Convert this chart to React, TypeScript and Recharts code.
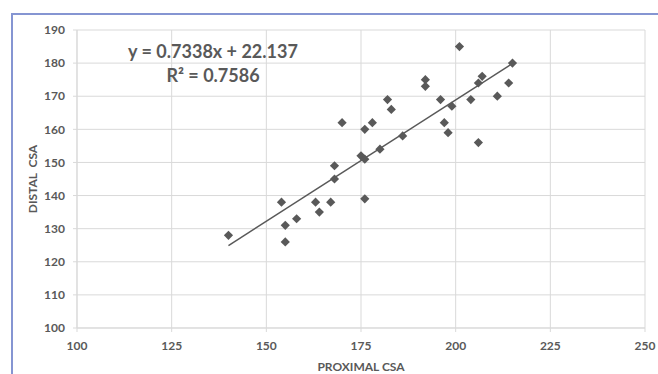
import React from 'react';
import { ScatterChart, Scatter, XAxis, YAxis, CartesianGrid, ReferenceLine } from 'recharts';

const proximal = [140, 154, 155, 155, 158, 163, 164, 167, 168, 168, 170, 175, 176, 176, 176, 178, 180, 182, 183, 186, 192, 192, 196, 197, 198, 199, 201, 204, 206, 206, 207, 211, 214, 215];
const distal = [128, 138, 131, 126, 133, 138, 135, 138, 145, 149, 162, 152, 151, 139, 160, 162, 154, 169, 166, 158, 175, 173, 169, 162, 159, 167, 185, 169, 156, 174, 176, 170, 174, 180];
const xTicks = [100, 125, 150, 175, 200, 225, 250];
const yTicks = [100, 110, 120, 130, 140, 150, 160, 170, 180, 190];
const trendX = [140, 215];
const trendY = [124.9, 179.9];
const equation = 'y = 0.7338x + 22.137';
const rSquared = 'R² = 0.7586';

const points = proximal.map((x, i) => ({ x, y: distal[i] }));
const FONT = 'Lato, "Open Sans", sans-serif';
const GRAY = '#595959';

const Diamond = (props: any) => {
  const { cx, cy } = props;
  if (cx == null || cy == null) return null;
  const r = 4.6;
  return <polygon points={`${cx},${cy - r} ${cx + r},${cy} ${cx},${cy + r} ${cx - r},${cy}`} fill={GRAY} />;
};

export default function App() {
  return (
    <div style={{ position: 'absolute', left: 0, top: 0, width: 658, height: 374, background: '#fff', fontFamily: FONT }}>
      <div style={{ position: 'absolute', left: 11, top: 13, right: 0, bottom: 0, borderTop: '2px solid #8595d2', borderLeft: '2px solid #8595d2' }} />
      <ScatterChart width={658} height={374} margin={{ top: 30, right: 13, bottom: 0, left: 0 }}>
        <CartesianGrid stroke="#d9d9d9" strokeWidth={1} />
        <XAxis
          type="number"
          dataKey="x"
          domain={[100, 250]}
          ticks={xTicks}
          interval={0}
          height={46}
          stroke="#d9d9d9"
          tickSize={4}
          tickMargin={9}
          tick={{ fill: GRAY, fontSize: 12, fontWeight: 700, fontFamily: FONT }}
          label={{ value: 'PROXIMAL CSA', position: 'insideBottom', offset: 3, fill: GRAY, fontSize: 12, fontWeight: 700, fontFamily: FONT }}
        />
        <YAxis
          type="number"
          dataKey="y"
          domain={[100, 190]}
          ticks={yTicks}
          interval={0}
          width={77}
          stroke="#d9d9d9"
          tickSize={4}
          tickMargin={8}
          tick={{ fill: GRAY, fontSize: 12, fontWeight: 700, fontFamily: FONT }}
          label={{ value: 'DISTAL\u00a0 CSA', angle: -90, position: 'insideLeft', offset: 33, fill: GRAY, fontSize: 12, fontWeight: 700, fontFamily: FONT, style: { textAnchor: 'middle' } }}
        />
        <ReferenceLine
          segment={[{ x: trendX[0], y: trendY[0] }, { x: trendX[1], y: trendY[1] }]}
          stroke={GRAY}
          strokeWidth={1.5}
        />
        <Scatter data={points} fill={GRAY} shape={<Diamond />} isAnimationActive={false} />
      </ScatterChart>
      <div style={{ position: 'absolute', left: 113, width: 200, top: 39, textAlign: 'center', color: GRAY, fontWeight: 700, fontSize: 18, lineHeight: '24px', fontFamily: FONT }}>
        <div>{equation}</div>
        <div>{rSquared}</div>
      </div>
    </div>
  );
}
